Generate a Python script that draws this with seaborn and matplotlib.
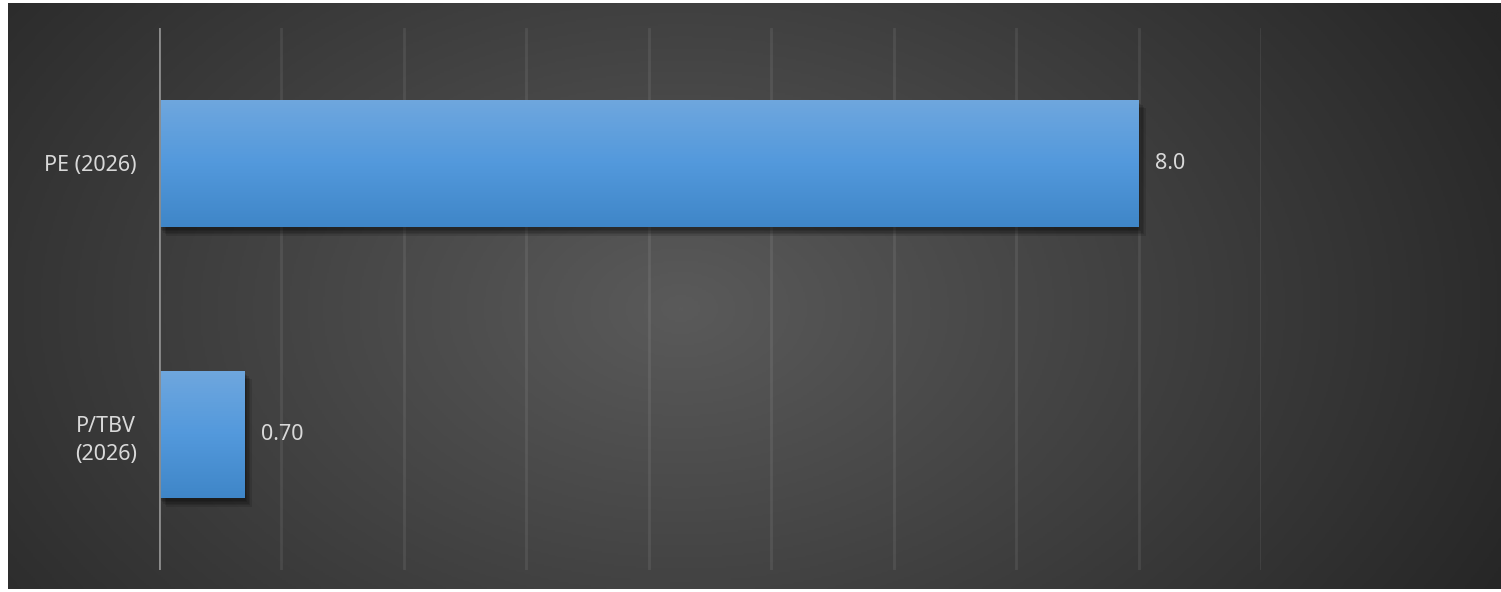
"""
Valuation multiples bar chart (PE / P/TBV, 2026) on a dark gradient panel.
"""

import numpy as np
import pandas as pd
import seaborn as sns
import matplotlib.pyplot as plt
import matplotlib.patheffects as pe
from matplotlib.colors import LinearSegmentedColormap

# ---------------------------------------------------------------------------
# Data
# ---------------------------------------------------------------------------

categories = ['PE (2026)', 'P/TBV\n(2026)']
values = [8.0, 0.70]
value_labels = ['8.0', '0.70']

df = pd.DataFrame({'metric': categories, 'value': values})

# ---------------------------------------------------------------------------
# Style
# ---------------------------------------------------------------------------

sns.set_style('dark')
plt.rcParams['font.family'] = ['Noto Sans', 'DejaVu Sans']
text_color = '#d9d9d9'

W, H = 1501, 592
fig = plt.figure(figsize=(W / 100, H / 100), dpi=100, facecolor='white')

# dark radial background panel
bg = fig.add_axes([8 / W, 3 / H, (W - 8) / W, (H - 6) / H])
ny, nx = 300, 760
yy, xx = np.mgrid[0:ny, 0:nx]
cx, cy = nx * 0.45, ny * 0.52
r = np.sqrt(((xx - cx) / (nx * 0.62)) ** 2 + ((yy - cy) / (ny * 1.05)) ** 2)
r = np.clip(r, 0, 1)
bg_cmap = LinearSegmentedColormap.from_list('bg', ['#5a5a5a', '#262626'])
bg.imshow(r, cmap=bg_cmap, aspect='auto', vmin=0, vmax=1, interpolation='bilinear')
bg.set_axis_off()

# chart axes
ax = fig.add_axes([159 / W, 22 / H, (1261 - 159) / W, (564 - 22) / H])
ax.patch.set_alpha(0)

sns.barplot(data=df, y='metric', x='value', orient='h', color='#4a90d4',
            width=0.47, linewidth=0, ax=ax, zorder=3)

ax.set_xlim(0, 9)
ax.set_xticks(np.arange(0, 10, 1))
ax.grid(axis='x', color='white', alpha=0.08, linewidth=2, zorder=0)
ax.grid(axis='y', visible=False)
ax.tick_params(axis='x', length=0, labelbottom=False)
ax.tick_params(axis='y', length=0, pad=16, labelsize=15.5, labelcolor=text_color)
for lbl in ax.get_yticklabels():
    lbl.set_multialignment('center')
    lbl.set_linespacing(1.45)
for s in ax.spines.values():
    s.set_visible(False)
ax.axvline(0, color='#8c8c8c', linewidth=2, zorder=5)
ax.set(xlabel=None, ylabel=None)

# gradient fill + soft drop shadow on bars
bar_cmap = LinearSegmentedColormap.from_list('bar', ['#6fa7de', '#5399dc', '#3f86c8'])
grad = np.linspace(0, 1, 256).reshape(-1, 1)
shadow = [pe.SimplePatchShadow(offset=(o, -o - 1), shadow_rgbFace='black', alpha=0.12)
          for o in (1, 2, 3, 4, 5)]
for patch in ax.patches:
    patch.set_path_effects(shadow + [pe.Normal()])
    x0, y0 = patch.get_x(), patch.get_y()
    w, h = patch.get_width(), patch.get_height()
    im = ax.imshow(grad, cmap=bar_cmap, aspect='auto', extent=(x0, x0 + w, y0 + h, y0),
                   zorder=4)
    im.set_clip_path(patch)

ax.set_ylim(1.5, -0.5)
ax.set_xlim(0, 9)

ax.bar_label(ax.containers[0], labels=value_labels, padding=12, fontsize=15.5, color=text_color)

fig.savefig('out.png', dpi=100, facecolor='white')
